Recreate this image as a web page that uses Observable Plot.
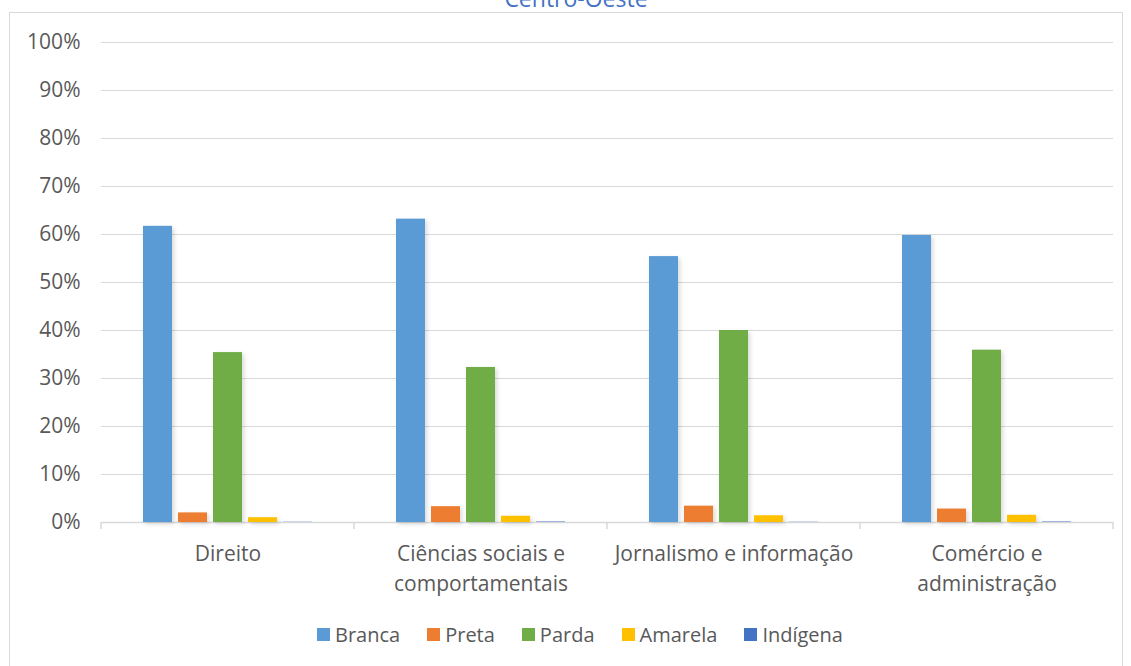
<!DOCTYPE html>
<html>
<head>
<meta charset="utf-8">
<script src="https://cdn.jsdelivr.net/npm/d3@7"></script>
<script src="https://cdn.jsdelivr.net/npm/@observablehq/plot@0.6"></script>
<style>
  html, body { margin: 0; padding: 0; background: #fff; }
  body { width: 1131px; height: 666px; overflow: hidden; position: relative; font-family: "Open Sans", sans-serif; }
  #frame { position: absolute; left: 9px; top: 12px; width: 1114px; height: 700px; border: 1px solid #d9d9d9; box-sizing: border-box; }
  #title { position: absolute; left: 0; width: 1152px; top: -18px; text-align: center; color: #4472C4; font-size: 23px; }
  #chart { position: absolute; left: 0; top: 0; }
  #legend { position: absolute; left: 0; top: 621px; width: 1160px; display: flex; justify-content: center; gap: 27px; font-size: 20px; color: #595959; }
  #legend .item { display: flex; align-items: center; gap: 5px; }
  #legend .sw { width: 13px; height: 13px; display: inline-block; }
</style>
</head>
<body>
<div id="frame"></div>
<div id="title">Centro-Oeste</div>
<div id="chart"></div>
<div id="legend"></div>
<script>
const categories = ["Direito", "Ciências sociais e\ncomportamentais", "Jornalismo e informação", "Comércio e\nadministração"];
const series = ["Branca", "Preta", "Parda", "Amarela", "Indígena"];
const branca = [61.7, 63.2, 55.4, 59.8];
const preta = [2.0, 3.3, 3.4, 2.8];
const parda = [35.4, 32.3, 40.0, 35.9];
const amarela = [1.0, 1.3, 1.4, 1.5];
const indigena = [0.05, 0.1, 0.05, 0.1];
const yTicks = [0, 10, 20, 30, 40, 50, 60, 70, 80, 90, 100];
const colors = ["#5B9BD5", "#ED7D31", "#70AD47", "#FFC000", "#4472C4"];

const valuesBySeries = [branca, preta, parda, amarela, indigena];
const data = [];
categories.forEach((c, i) => {
  series.forEach((s, j) => data.push({category: c, series: s, value: valuesBySeries[j][i]}));
});

const textColor = "#595959";
const chart = Plot.plot({
  width: 1131,
  height: 610,
  marginTop: 42,
  marginBottom: 88,
  marginLeft: 100,
  marginRight: 18,
  style: {fontFamily: "Open Sans, sans-serif", background: "transparent"},
  fx: {domain: categories, padding: 0, label: null},
  x: {domain: series, paddingInner: 0.167, paddingOuter: 1.1, axis: null},
  y: {domain: [0, 100], label: null},
  color: {domain: series, range: colors},
  marks: [
    Plot.gridY(yTicks, {stroke: "#d9d9d9", strokeOpacity: 1, strokeWidth: 1.2}),
    Plot.ruleY([0], {stroke: "#d9d9d9", strokeWidth: 1.5}),
    Plot.barY(data, {fx: "category", x: "series", y: "value", fill: "series"}),
    Plot.axisY(yTicks, {tickSize: 0, tickPadding: 21, fontSize: 21, fill: textColor, tickFormat: d => d + "%", label: null}),
    Plot.axisFx({anchor: "bottom", tickSize: 0, tickPadding: 18, fontSize: 21, lineHeight: 1.4, fill: textColor, label: null})
  ]
});
document.getElementById("chart").appendChild(chart);

// tick marks at category boundaries on the x-axis baseline
const fx = chart.scale("fx");
const y = chart.scale("y");
const svg = d3.select(chart);
const y0 = y.apply(0);
const bounds = categories.map(c => fx.apply(c));
bounds.push(fx.apply(categories[categories.length - 1]) + fx.bandwidth);
svg.append("g").selectAll("line").data(bounds).join("line")
  .attr("x1", d => d).attr("x2", d => d)
  .attr("y1", y0).attr("y2", y0 + 7)
  .attr("stroke", "#d9d9d9").attr("stroke-width", 1.5);

svg.selectAll('g[aria-label="bar"]').style("filter", "drop-shadow(2px 2px 2px rgba(0,0,0,0.15))");

// legend
const legend = d3.select("#legend");
series.forEach((s, i) => {
  const it = legend.append("div").attr("class", "item");
  it.append("span").attr("class", "sw").style("background", colors[i]);
  it.append("span").text(s);
});
</script>
</body>
</html>
